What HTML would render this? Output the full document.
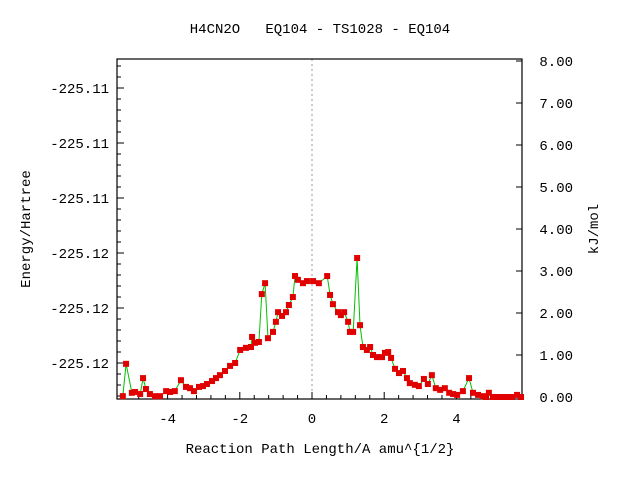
<!DOCTYPE html>
<html><head><meta charset="utf-8"><style>
html,body{margin:0;padding:0;background:#fff;}
svg text{font-family:"Liberation Mono","DejaVu Sans Mono",monospace;font-size:14px;fill:#000;}
</style></head><body>
<svg id="chart" width="640" height="480" viewBox="0 0 640 480">
<rect width="640" height="480" fill="#fff"/>
<text x="320" y="33" text-anchor="middle" xml:space="preserve">H4CN2O   EQ104 - TS1028 - EQ104</text>
<g id="axes"></g>
<g id="series"></g>
<text x="320" y="453" text-anchor="middle">Reaction Path Length/A amu^{1/2}</text>
<text transform="translate(30,229) rotate(-90)" text-anchor="middle">Energy/Hartree</text>
<text transform="translate(598,229) rotate(-90)" text-anchor="middle">kJ/mol</text>
</svg>
<script>
const xValues = [-5.24,-5.15,-4.99,-4.90,-4.76,-4.68,-4.60,-4.49,-4.35,-4.21,-4.04,-3.93,-3.80,-3.63,-3.49,-3.38,-3.27,-3.13,-3.02,-2.91,-2.77,-2.66,-2.55,-2.41,-2.27,-2.13,-1.99,-1.83,-1.69,-1.66,-1.58,-1.47,-1.39,-1.30,-1.22,-1.08,-1.00,-0.94,-0.83,-0.72,-0.64,-0.53,-0.47,-0.39,-0.25,-0.14,0.03,0.19,0.42,0.50,0.58,0.72,0.80,0.89,1.00,1.05,1.14,1.25,1.33,1.41,1.52,1.61,1.69,1.80,1.94,2.02,2.11,2.19,2.30,2.41,2.52,2.63,2.71,2.85,2.96,3.10,3.21,3.32,3.43,3.55,3.68,3.80,3.91,4.02,4.18,4.35,4.46,4.60,4.74,4.82,4.90,5.01,5.15,5.29,5.43,5.54,5.68,5.79];
const energyKJ = [0.02,0.79,0.10,0.12,0.07,0.45,0.19,0.07,0.02,0.02,0.14,0.12,0.14,0.40,0.24,0.21,0.14,0.24,0.26,0.31,0.38,0.45,0.52,0.62,0.74,0.81,1.12,1.17,1.19,1.43,1.29,1.31,2.45,2.71,1.40,1.55,1.79,2.02,1.93,2.02,2.19,2.38,2.88,2.79,2.71,2.76,2.76,2.71,2.88,2.43,2.21,2.02,1.95,2.02,1.79,1.55,1.55,3.31,1.71,1.19,1.12,1.19,1.00,0.95,0.95,1.05,1.07,0.93,0.67,0.57,0.62,0.45,0.33,0.29,0.26,0.43,0.31,0.52,0.21,0.17,0.21,0.10,0.07,0.05,0.14,0.45,0.10,0.05,0.02,0.00,0.10,0.00,0.00,0.00,0.00,0.00,0.05,0.00];
const xTicks = [-4,-2,0,2,4];
const rightTicks = [0,1,2,3,4,5,6,7,8];
const leftTickLabels = ["-225.11","-225.11","-225.11","-225.12","-225.12","-225.12"];

const NS="http://www.w3.org/2000/svg";
const L=117,R=522,T=59,B=399;
function xs(v){return 312+v*36.1;}
function ys(v){return 397-v*42;}
function mk(tag,attrs,parent){const e=document.createElementNS(NS,tag);for(const k in attrs)e.setAttribute(k,attrs[k]);parent.appendChild(e);return e;}
const axes=document.getElementById('axes');
const series=document.getElementById('series');

// zero dashed line
const z=mk('line',{x1:xs(0),x2:xs(0),y1:T,y2:B,stroke:'#999','stroke-dasharray':'2,3','stroke-width':1},axes);



// frame
const fr=mk('rect',{x:L,y:T,width:R-L,height:B-T,fill:'none',stroke:'#000','stroke-width':1.2},axes);



// x ticks (major + minor)
for(let v=-5.2;v<=5.8;v+=0.4){const px=xs(Math.round(v*10)/10);if(px<L||px>R)continue;
 const major=Math.abs(Math.round(v*10)%20)===0;
 const t=mk('line',{x1:px,x2:px,y1:B,y2:B-(major?7:4),stroke:'#000'},axes);
 
 }
xTicks.forEach(v=>{const t=mk('text',{x:xs(v),y:B+24,'text-anchor':'middle'},axes);t.textContent=String(v);
 
 });

// left axis ticks
leftTickLabels.forEach((lab,i)=>{const py=88+55*i;
 const t=mk('text',{x:109,y:py+5,'text-anchor':'end'},axes);t.textContent=lab;
 
 });
for(let py=66;py<B;py+=11){const major=((py-88)%55===0);
 const t=mk('line',{x1:L,x2:L+(major?7:4),y1:py,y2:py,stroke:'#000'},axes);
 
 }

// right axis ticks
rightTicks.forEach(v=>{const py=ys(v);
 const t=mk('line',{x1:R,x2:R-6,y1:py,y2:py,stroke:'#000'},axes);
 
 
 const l=mk('text',{x:573,y:py+5,'text-anchor':'end'},axes);l.textContent=v.toFixed(2);
 
 });

// line
const pts=xValues.map((x,i)=>xs(x).toFixed(1)+','+ys(energyKJ[i]).toFixed(1)).join(' ');
const pl=mk('polyline',{points:pts,fill:'none',stroke:'#00c000','stroke-width':1},series);


xValues.forEach((x,i)=>{
 const r=mk('rect',{x:xs(x)-3,y:ys(energyKJ[i])-3,width:6,height:6,fill:'#e00000'},series);
 
 });
</script>
</body></html>
